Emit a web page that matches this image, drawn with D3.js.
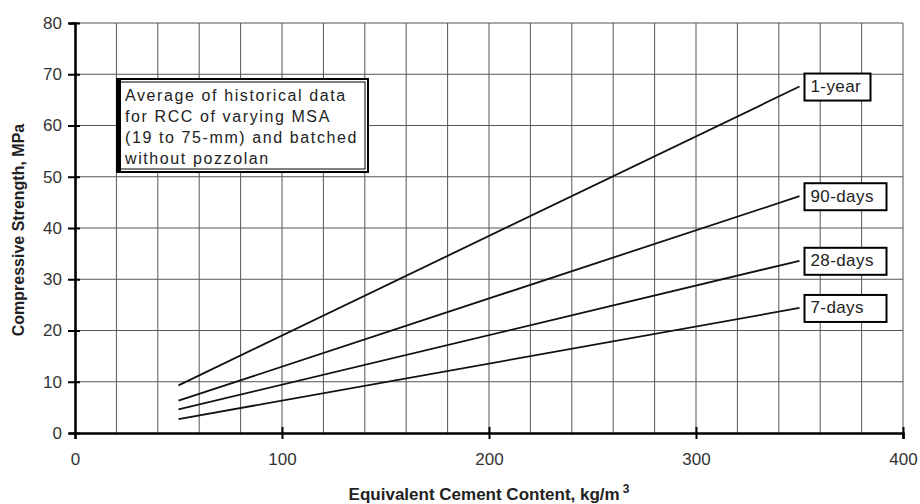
<!DOCTYPE html>
<html>
<head>
<meta charset="utf-8">
<script src="https://cdn.jsdelivr.net/npm/d3@7"></script>
<style>
  body { margin: 0; background: #fff; }
  svg text { font-family: "Liberation Sans", Arial, sans-serif; }
</style>
</head>
<body>
<div id="chart"></div>
<script>
const width = 920;
const height = 504;

// data
const ages = ['1-year', '90-days', '28-days', '7-days'];
const cementContent = [50, 350];
const strength = {
  '1-year': [9.3, 67.6],
  '90-days': [6.3, 46.2],
  '28-days': [4.6, 33.6],
  '7-days': [2.7, 24.4]
};
const xTicks = [0, 100, 200, 300, 400];
const yTicks = [0, 10, 20, 30, 40, 50, 60, 70, 80];
const xGrid = d3.range(20, 401, 20);
const noteLines = [
  'Average of historical data',
  'for RCC of varying MSA',
  '(19 to 75-mm) and batched',
  'without pozzolan'
];

const margin = {left: 75, right: 17, top: 23, bottom: 71};

const x = d3.scaleLinear().domain([0, 400]).range([margin.left, width - margin.right]);
const y = d3.scaleLinear().domain([0, 80]).range([height - margin.bottom, margin.top]);

const svg = d3.select('#chart').append('svg')
    .attr('width', width)
    .attr('height', height);

// grid
svg.append('g')
  .selectAll('line')
  .data(xGrid)
  .enter().append('line')
    .attr('x1', d => x(d)).attr('x2', d => x(d))
    .attr('y1', y(0)).attr('y2', y(80))
    .attr('stroke', '#555').attr('stroke-width', 1);

svg.append('g')
  .selectAll('line')
  .data(yTicks.slice(1))
  .enter().append('line')
    .attr('x1', x(0)).attr('x2', x(400))
    .attr('y1', d => y(d)).attr('y2', d => y(d))
    .attr('stroke', '#555').attr('stroke-width', 1);

// axes
const yAxis = svg.append('g')
  .attr('transform', `translate(${x(0)},0)`)
  .call(d3.axisLeft(y).tickValues(yTicks).tickSize(6).tickPadding(7));
yAxis.select('.domain').attr('stroke-width', 2.6);
yAxis.selectAll('.tick line').attr('stroke-width', 2).attr('x1', -7).attr('x2', 5);
yAxis.selectAll('text').style('font-size', '17px').attr('fill', '#333');

const xAxis = svg.append('g')
  .attr('transform', `translate(0,${y(0)})`)
  .call(d3.axisBottom(x).tickValues(xTicks).tickSize(6).tickPadding(14));
xAxis.select('.domain').attr('stroke-width', 2.6);
xAxis.selectAll('.tick line').attr('stroke-width', 2).attr('y1', -6).attr('y2', 6);
xAxis.selectAll('text').style('font-size', '17px').attr('fill', '#333');
xAxis.selectAll('.tick').filter(d => d === 0).select('line').remove();

// strength lines
const line = d3.line()
  .x((d, i) => x(cementContent[i]))
  .y(d => y(d));

svg.append('g')
  .selectAll('path')
  .data(ages)
  .enter().append('path')
    .attr('d', d => line(strength[d]))
    .attr('fill', 'none')
    .attr('stroke', '#111')
    .attr('stroke-width', 1.8);

// labels at line ends
const labelW = {'1-year': 66, '90-days': 82, '28-days': 82, '7-days': 82};
const labels = svg.append('g')
  .selectAll('g')
  .data(ages)
  .enter().append('g')
    .attr('transform', d => `translate(${x(cementContent[1]) + 5},${y(strength[d][1])})`);

labels.append('rect')
  .attr('x', 0).attr('y', -13)
  .attr('width', d => labelW[d]).attr('height', 27)
  .attr('fill', '#fff').attr('stroke', '#000').attr('stroke-width', 2);

labels.append('text')
  .attr('x', 6).attr('y', 1)
  .attr('dominant-baseline', 'middle')
  .style('font-size', '17px')
  .attr('letter-spacing', 0.4)
  .attr('fill', '#222')
  .text(d => d);

// note box
const note = svg.append('g').attr('transform', 'translate(117,79)');
note.append('rect')
  .attr('width', 251).attr('height', 93)
  .attr('fill', '#fff').attr('stroke', '#000').attr('stroke-width', 2);
note.append('rect')
  .attr('x', 3).attr('y', 3)
  .attr('width', 245).attr('height', 87)
  .attr('fill', 'none').attr('stroke', '#000').attr('stroke-width', 1);
note.append('rect')
  .attr('x', 1).attr('y', 1).attr('width', 3).attr('height', 91)
  .attr('fill', '#000');
note.selectAll('text')
  .data(noteLines)
  .enter().append('text')
    .attr('x', 8)
    .attr('y', (d, i) => 22 + i * 21)
    .style('font-size', '16px')
    .attr('fill', '#222')
    .attr('letter-spacing', 1.6)
    .text(d => d);

// axis titles
svg.append('text')
  .attr('transform', `translate(24,${(y(0) + y(80)) / 2 + 2}) rotate(-90)`)
  .attr('text-anchor', 'middle')
  .style('font-size', '16px')
  .attr('font-weight', 'bold')
  .attr('fill', '#222')
  .text('Compressive Strength, MPa');

const xt = svg.append('text')
  .attr('x', (x(0) + x(400)) / 2)
  .attr('y', 500)
  .attr('text-anchor', 'middle')
  .style('font-size', '17px')
  .attr('font-weight', 'bold')
  .attr('fill', '#222')
  .text('Equivalent Cement Content, kg/m');
xt.append('tspan')
  .style('font-size', '12px')
  .attr('dx', 3)
  .attr('dy', -7)
  .text('3');
</script>
</body>
</html>
